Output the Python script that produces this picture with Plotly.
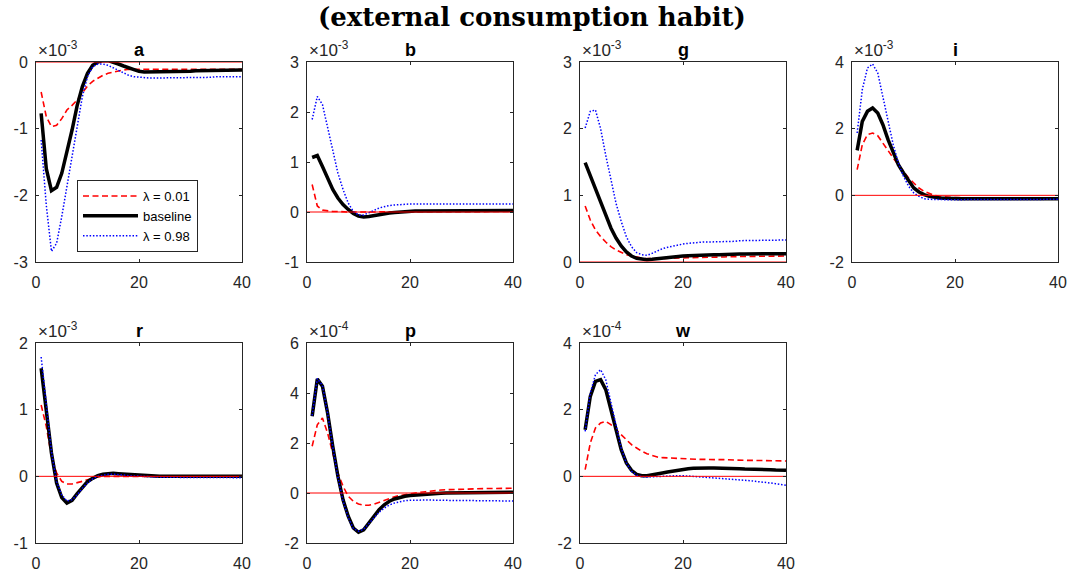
import plotly.graph_objects as go

W, H = 1074, 578
t = list(range(1, 41))

panel_names = ["a", "b", "g", "i", "r", "p", "w"]
panel_exponents = [-3, -3, -3, -3, -3, -4, -4]

# values in units of 10^exponent (as shown on the axes)
a_low = [-0.45, -0.82, -0.97, -0.95, -0.85, -0.72, -0.65, -0.57, -0.46, -0.36,
         -0.29, -0.24, -0.20, -0.17, -0.15, -0.13, -0.12, -0.11, -0.11, -0.11,
         -0.11, -0.11, -0.11, -0.11, -0.11, -0.11, -0.11, -0.11, -0.11, -0.11,
         -0.11, -0.11, -0.11, -0.11, -0.11, -0.11, -0.11, -0.11, -0.11, -0.11]
a_base = [-0.77, -1.60, -1.93, -1.88, -1.67, -1.37, -1.02, -0.65, -0.37, -0.17,
          -0.05, 0.00, 0.02, 0.02, 0.00, -0.03, -0.06, -0.09, -0.12, -0.14,
          -0.15, -0.15, -0.15, -0.15, -0.15, -0.15, -0.14, -0.14, -0.14, -0.14,
          -0.13, -0.13, -0.13, -0.13, -0.13, -0.13, -0.12, -0.12, -0.12, -0.12]
a_high = [-1.17, -2.15, -2.84, -2.72, -2.32, -1.87, -1.42, -0.92, -0.52, -0.22,
          -0.07, -0.03, -0.03, -0.05, -0.09, -0.13, -0.17, -0.20, -0.22, -0.23,
          -0.24, -0.24, -0.24, -0.24, -0.24, -0.24, -0.24, -0.23, -0.23, -0.23,
          -0.23, -0.23, -0.23, -0.23, -0.22, -0.22, -0.22, -0.22, -0.22, -0.22]

b_low = [0.55, 0.12, 0.04, 0.02, 0.01, 0.01, 0.00, 0.00, 0.00, 0.00,
         0.00, 0.00, 0.00, 0.00, 0.00, 0.00, 0.00, 0.00, 0.00, 0.00,
         0.00, 0.00, 0.00, 0.00, 0.00, 0.00, 0.00, 0.00, 0.00, 0.00,
         0.01, 0.01, 0.01, 0.01, 0.01, 0.01, 0.01, 0.01, 0.01, 0.01]
b_base = [1.09, 1.13, 0.91, 0.68, 0.45, 0.28, 0.15, 0.05, -0.03, -0.08,
          -0.10, -0.09, -0.07, -0.05, -0.03, -0.02, -0.01, 0.00, 0.01, 0.01,
          0.02, 0.02, 0.02, 0.02, 0.02, 0.02, 0.02, 0.02, 0.03, 0.03,
          0.03, 0.03, 0.03, 0.03, 0.03, 0.03, 0.03, 0.03, 0.03, 0.03]
b_high = [1.85, 2.31, 2.15, 1.71, 1.25, 0.78, 0.45, 0.18, 0.01, -0.06,
          -0.06, -0.02, 0.03, 0.08, 0.11, 0.13, 0.14, 0.15, 0.16, 0.16,
          0.16, 0.16, 0.16, 0.16, 0.16, 0.16, 0.16, 0.16, 0.16, 0.16,
          0.16, 0.16, 0.16, 0.16, 0.16, 0.16, 0.16, 0.16, 0.16, 0.16]

g_low = [0.84, 0.63, 0.48, 0.38, 0.30, 0.23, 0.18, 0.14, 0.11, 0.09,
         0.07, 0.06, 0.05, 0.05, 0.05, 0.05, 0.055, 0.055, 0.06, 0.06,
         0.065, 0.065, 0.07, 0.07, 0.07, 0.075, 0.075, 0.075, 0.08, 0.08,
         0.08, 0.08, 0.085, 0.085, 0.085, 0.085, 0.085, 0.09, 0.09, 0.09]
g_base = [1.49, 1.29, 1.09, 0.89, 0.69, 0.51, 0.36, 0.24, 0.15, 0.09,
          0.055, 0.04, 0.035, 0.04, 0.05, 0.06, 0.07, 0.08, 0.085, 0.09,
          0.095, 0.10, 0.10, 0.105, 0.11, 0.11, 0.11, 0.115, 0.115, 0.12,
          0.12, 0.12, 0.12, 0.12, 0.12, 0.12, 0.125, 0.125, 0.125, 0.125]
g_high = [2.01, 2.26, 2.28, 2.00, 1.60, 1.23, 0.88, 0.61, 0.38, 0.23,
          0.14, 0.11, 0.10, 0.13, 0.17, 0.20, 0.22, 0.24, 0.26, 0.27,
          0.28, 0.29, 0.29, 0.30, 0.30, 0.30, 0.31, 0.31, 0.31, 0.31,
          0.32, 0.32, 0.32, 0.32, 0.32, 0.33, 0.33, 0.33, 0.33, 0.33]

i_low = [0.77, 1.52, 1.82, 1.87, 1.79, 1.57, 1.32, 1.12, 0.92, 0.72,
         0.52, 0.37, 0.22, 0.12, 0.05, 0.00, -0.03, -0.05, -0.06, -0.07,
         -0.07, -0.07, -0.07, -0.07, -0.07, -0.07, -0.07, -0.07, -0.07, -0.07,
         -0.08, -0.08, -0.08, -0.08, -0.08, -0.08, -0.08, -0.08, -0.08, -0.08]
i_base = [1.35, 2.22, 2.52, 2.62, 2.47, 2.12, 1.67, 1.27, 0.92, 0.67,
          0.42, 0.22, 0.10, 0.02, -0.03, -0.06, -0.08, -0.09, -0.10, -0.10,
          -0.10, -0.10, -0.10, -0.10, -0.10, -0.10, -0.10, -0.10, -0.10, -0.10,
          -0.10, -0.10, -0.10, -0.10, -0.10, -0.10, -0.10, -0.10, -0.10, -0.10]
i_high = [1.87, 3.17, 3.82, 3.94, 3.67, 2.97, 2.17, 1.52, 0.97, 0.57,
          0.27, 0.07, -0.03, -0.10, -0.12, -0.13, -0.13, -0.13, -0.13, -0.13,
          -0.13, -0.13, -0.13, -0.13, -0.13, -0.13, -0.13, -0.13, -0.13, -0.12,
          -0.12, -0.12, -0.12, -0.12, -0.12, -0.12, -0.12, -0.12, -0.12, -0.12]

r_low = [1.07, 0.75, 0.30, 0.05, -0.075, -0.115, -0.115, -0.10, -0.075, -0.05,
         -0.025, -0.01, 0.00, 0.00, 0.00, 0.00, 0.00, 0.00, 0.00, 0.00,
         0.00, 0.00, 0.00, 0.00, 0.00, 0.00, 0.00, 0.00, 0.00, 0.00,
         0.00, 0.00, 0.00, 0.00, 0.00, 0.00, 0.00, 0.00, 0.00, 0.00]
r_base = [1.62, 1.00, 0.35, -0.10, -0.32, -0.40, -0.36, -0.26, -0.16, -0.08,
          -0.03, 0.01, 0.03, 0.04, 0.045, 0.04, 0.035, 0.025, 0.015, 0.01,
          0.005, 0.00, 0.00, 0.00, 0.00, 0.00, 0.00, 0.00, 0.00, 0.00,
          0.00, 0.00, 0.00, 0.00, 0.00, 0.00, 0.00, 0.00, 0.00, 0.00]
r_high = [1.79, 1.05, 0.37, -0.08, -0.28, -0.37, -0.35, -0.28, -0.18, -0.10,
          -0.04, 0.00, 0.02, 0.03, 0.03, 0.03, 0.02, 0.01, 0.005, 0.00,
          -0.005, -0.01, -0.01, -0.01, -0.015, -0.015, -0.015, -0.015, -0.02, -0.02,
          -0.02, -0.02, -0.02, -0.02, -0.02, -0.02, -0.02, -0.02, -0.02, -0.02]

p_low = [1.87, 2.73, 3.00, 2.40, 1.60, 0.80, 0.27, -0.13, -0.33, -0.44,
         -0.49, -0.49, -0.45, -0.37, -0.29, -0.21, -0.15, -0.10, -0.06, -0.03,
         0.00, 0.03, 0.05, 0.08, 0.10, 0.12, 0.13, 0.14, 0.15, 0.16,
         0.16, 0.17, 0.17, 0.18, 0.18, 0.18, 0.19, 0.19, 0.19, 0.19]
p_base = [3.07, 4.56, 4.27, 3.20, 1.87, 0.67, -0.27, -0.93, -1.40, -1.57,
          -1.47, -1.20, -0.93, -0.67, -0.47, -0.33, -0.24, -0.17, -0.13, -0.10,
          -0.08, -0.06, -0.05, -0.03, -0.02, -0.01, 0.00, 0.00, 0.01, 0.01,
          0.01, 0.02, 0.02, 0.02, 0.02, 0.03, 0.03, 0.03, 0.03, 0.03]
p_high = [3.10, 4.58, 4.30, 3.20, 1.85, 0.63, -0.32, -0.97, -1.42, -1.53,
          -1.45, -1.22, -0.98, -0.77, -0.60, -0.48, -0.40, -0.34, -0.31, -0.29,
          -0.28, -0.28, -0.28, -0.28, -0.29, -0.29, -0.29, -0.30, -0.30, -0.30,
          -0.30, -0.31, -0.31, -0.31, -0.31, -0.32, -0.32, -0.32, -0.32, -0.32]

w_low = [0.20, 1.00, 1.45, 1.60, 1.65, 1.55, 1.40, 1.25, 1.10, 0.95,
         0.85, 0.75, 0.68, 0.62, 0.58, 0.56, 0.55, 0.54, 0.53, 0.52,
         0.52, 0.51, 0.51, 0.51, 0.50, 0.50, 0.50, 0.50, 0.49, 0.49,
         0.49, 0.48, 0.48, 0.48, 0.47, 0.47, 0.47, 0.46, 0.46, 0.46]
w_base = [1.40, 2.40, 2.85, 2.90, 2.60, 2.00, 1.35, 0.80, 0.40, 0.18,
          0.06, 0.02, 0.02, 0.04, 0.07, 0.10, 0.13, 0.16, 0.19, 0.21,
          0.23, 0.24, 0.25, 0.25, 0.25, 0.25, 0.25, 0.24, 0.24, 0.23,
          0.23, 0.22, 0.22, 0.21, 0.21, 0.20, 0.20, 0.19, 0.19, 0.18]
w_high = [1.35, 2.50, 3.05, 3.20, 2.90, 2.20, 1.45, 0.85, 0.40, 0.15,
          0.03, -0.01, -0.02, -0.01, 0.00, 0.01, 0.02, 0.02, 0.02, 0.02,
          0.01, 0.00, -0.01, -0.02, -0.03, -0.04, -0.05, -0.06, -0.08, -0.09,
          -0.10, -0.12, -0.13, -0.15, -0.16, -0.18, -0.20, -0.22, -0.24, -0.27]

y_ranges = [[-3, 0], [-1, 3], [0, 3], [-2, 4], [-1, 2], [-2, 6], [-2, 4]]
y_ticks = [[-3, -2, -1, 0], [-1, 0, 1, 2, 3], [0, 1, 2, 3], [-2, 0, 2, 4],
           [-1, 0, 1, 2], [-2, 0, 2, 4, 6], [-2, 0, 2, 4]]
x_ticks = [0, 20, 40]

low_series = [a_low, b_low, g_low, i_low, r_low, p_low, w_low]
base_series = [a_base, b_base, g_base, i_base, r_base, p_base, w_base]
high_series = [a_high, b_high, g_high, i_high, r_high, p_high, w_high]

legend_names = ["λ = 0.01", "baseline", "λ = 0.98"]

# layout geometry (pixels)
col_left = [36, 307, 580, 852]
ax_w = 206
row_top = [62, 343]
ax_h = 200


def px(x):
    return x / W


def py(y):
    return 1 - y / H


AX_COLOR = "#262626"
FONT = "Liberation Sans, Arial, sans-serif"

fig = go.Figure()
annotations = []
for k, name in enumerate(panel_names):
    row, col = divmod(k, 4)
    n = "" if k == 0 else str(k + 1)
    xa, ya = "x" + n, "y" + n
    x0 = col_left[col]
    y0 = row_top[row]
    xdom = [px(x0), px(x0 + ax_w)]
    ydom = [py(y0 + ax_h), py(y0)]

    fig.add_trace(go.Scatter(x=t, y=low_series[k], mode="lines", xaxis=xa, yaxis=ya,
                             name=legend_names[0], showlegend=(k == 0), legendrank=1,
                             line=dict(color="#ff0000", width=1.6, dash="6px,3.5px")))
    fig.add_trace(go.Scatter(x=t, y=base_series[k], mode="lines", xaxis=xa, yaxis=ya,
                             name=legend_names[1], showlegend=(k == 0), legendrank=2,
                             line=dict(color="#000000", width=3.5)))
    fig.add_trace(go.Scatter(x=t, y=high_series[k], mode="lines", xaxis=xa, yaxis=ya,
                             name=legend_names[2], showlegend=(k == 0), legendrank=3,
                             line=dict(color="#0000ff", width=1.5, dash="1.5px,1.8px")))
    fig.add_trace(go.Scatter(x=[0, 40], y=[0, 0], mode="lines", xaxis=xa, yaxis=ya,
                             showlegend=False, hoverinfo="skip",
                             line=dict(color="#ff0000", width=1)))

    common = dict(showline=True, linecolor=AX_COLOR, linewidth=1, mirror="ticks",
                  ticks="inside", ticklen=3, tickcolor=AX_COLOR, showgrid=False,
                  zeroline=False, automargin=False,
                  tickfont=dict(family=FONT, size=16, color=AX_COLOR))
    fig.layout["xaxis" + n] = dict(domain=xdom, anchor=ya, range=[0, 40],
                                   tickvals=x_ticks, ticktext=[str(v) for v in x_ticks],
                                   ticklabelstandoff=6, **common)
    fig.layout["yaxis" + n] = dict(domain=ydom, anchor=xa, range=y_ranges[k],
                                   tickvals=y_ticks[k],
                                   ticktext=[str(v) for v in y_ticks[k]],
                                   ticklabelstandoff=4, **common)

    annotations.append(dict(text="<b>%s</b>" % name, xref="paper", yref="paper",
                            x=px(x0 + ax_w / 2), y=py(y0), xanchor="center",
                            yanchor="bottom", yshift=0, showarrow=False,
                            font=dict(family=FONT, size=18, color="#000000")))
    annotations.append(dict(text="×10<sup>%d</sup>" % panel_exponents[k], xref="paper",
                            yref="paper", x=px(x0), y=py(y0), xanchor="left",
                            yanchor="bottom", xshift=0, yshift=0, showarrow=False,
                            font=dict(family=FONT, size=17, color=AX_COLOR)))

annotations.append(dict(text="<b>(external consumption habit)</b>", xref="paper",
                        yref="paper", x=px(531.5), y=py(17), xanchor="center",
                        yanchor="middle", showarrow=False,
                        font=dict(family="DejaVu Serif, serif", size=26, color="#000000")))

fig.update_layout(
    width=W, height=H,
    margin=dict(l=0, r=0, t=0, b=0, pad=0, autoexpand=False),
    paper_bgcolor="white", plot_bgcolor="white",
    annotations=annotations,
    showlegend=True,
    legend=dict(x=px(77), y=py(180), xanchor="left", yanchor="top",
                bgcolor="white", bordercolor="#262626", borderwidth=1,
                font=dict(family=FONT, size=13, color="#000000"),
                tracegroupgap=0, itemwidth=55),
)

fig.write_html("out.html")
